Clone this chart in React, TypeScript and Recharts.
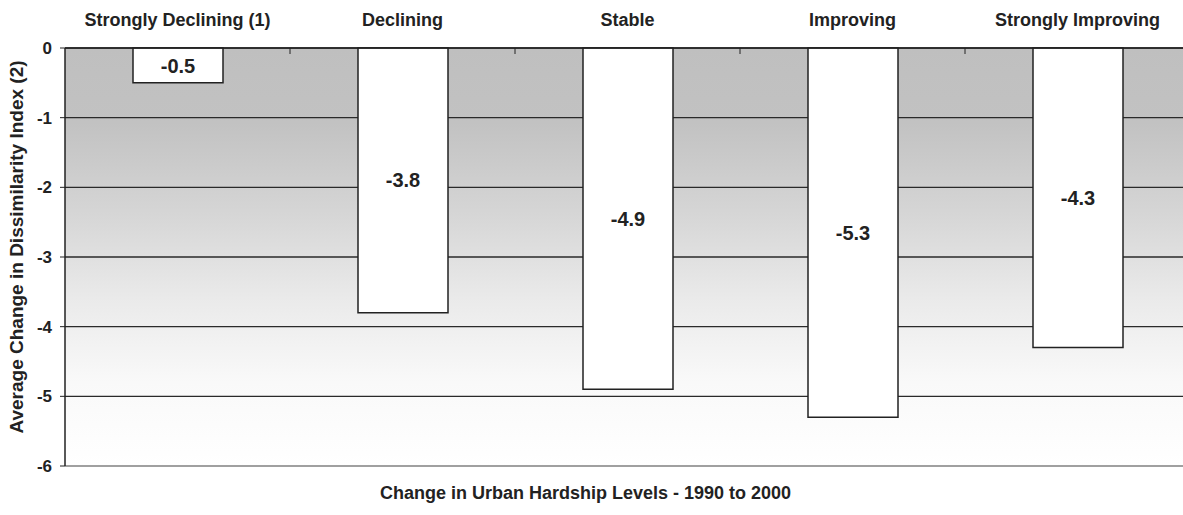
import { BarChart, Bar, XAxis, YAxis, CartesianGrid, LabelList } from 'recharts';

// Hardship level categories along the top
const categories = ['Strongly Declining (1)', 'Declining', 'Stable', 'Improving', 'Strongly Improving'];
// Average change in dissimilarity index
const changes = [-0.5, -3.8, -4.9, -5.3, -4.3];
const yTicks = [0, -1, -2, -3, -4, -5, -6];
const boundaryTicks = [1, 2, 3, 4];

const data = categories.map((category, i) => ({
  category,
  value: changes[i],
  idx: i + 0.5,
}));

const font = '"Liberation Sans", Arial, sans-serif';
const yTitle = 'Average Change in Dissimilarity Index (2)';

const NoTick = () => <g />;

const YTitle = (props: any) => {
  const vb = props.viewBox || { x: 0, y: 0, width: 65, height: 417 };
  const cx = vb.x + 16;
  const cy = vb.y + vb.height / 2 - 10;
  return (
    <text
      x={cx}
      y={cy}
      transform={`rotate(-90, ${cx}, ${cy})`}
      textAnchor="middle"
      dominantBaseline="central"
      fill="#222"
      fontSize={19}
      fontWeight={700}
      fontFamily={font}
    >
      {yTitle}
    </text>
  );
};

export default function App() {
  return (
    <div style={{ position: 'absolute', left: 0, top: 0, width: 1183, height: 515, overflow: 'hidden', background: '#fff' }}>
      <BarChart
        width={1190}
        height={515}
        data={data}
        margin={{ top: 0, right: 0, bottom: 0, left: 0 }}
        barCategoryGap={0}
      >
        <defs>
          <linearGradient id="bgGrad" x1="0" y1="0" x2="0" y2="1">
            <stop offset="0%" stopColor="#bfbfbf" />
            <stop offset="18%" stopColor="#c2c2c2" />
            <stop offset="40%" stopColor="#d6d6d6" />
            <stop offset="60%" stopColor="#eaeaea" />
            <stop offset="80%" stopColor="#f9f9f9" />
            <stop offset="100%" stopColor="#ffffff" />
          </linearGradient>
        </defs>
        <CartesianGrid
          vertical={false}
          stroke="#2a2a2a"
          strokeWidth={1.4}
          fill="url(#bgGrad)"
          fillOpacity={1}
          xAxisId="cat"
        />
        <XAxis
          xAxisId="bounds"
          orientation="top"
          type="number"
          dataKey="idx"
          domain={[0, 5]}
          ticks={boundaryTicks}
          height={1}
          mirror
          tick={NoTick}
          tickSize={6}
          tickLine={{ stroke: '#222' }}
          axisLine={{ stroke: '#222', strokeWidth: 1.5 }}
        />
        <XAxis
          xAxisId="cat"
          orientation="top"
          dataKey="category"
          height={48}
          tickLine={false}
          axisLine={false}
          tickSize={0}
          tickMargin={22}
          interval={0}
          tick={{ fill: '#222', fontSize: 18, fontWeight: 700, fontFamily: font }}
        />
        <XAxis
          xAxisId="bottom"
          orientation="bottom"
          type="number"
          dataKey="idx"
          domain={[0, 5]}
          height={49}
          tick={false}
          tickLine={false}
          axisLine={{ stroke: '#a0a0a0', strokeWidth: 2 }}
          label={{
            value: 'Change in Urban Hardship Levels - 1990 to 2000',
            position: 'insideBottom',
            offset: 16,
            dx: -42,
            fill: '#222',
            fontSize: 18,
            fontWeight: 700,
            fontFamily: font,
          }}
        />
        <YAxis
          domain={[-6, 0]}
          ticks={yTicks}
          width={65}
          interval={0}
          tickSize={5}
          tickMargin={8}
          tickLine={{ stroke: '#222' }}
          axisLine={{ stroke: '#222', strokeWidth: 1.5 }}
          tick={{ fill: '#222', fontSize: 17, fontWeight: 700, fontFamily: font }}
          label={{ content: YTitle }}
        />
        <Bar
          xAxisId="cat"
          dataKey="value"
          barSize={90}
          fill="#ffffff"
          stroke="#222"
          strokeWidth={1.5}
          isAnimationActive={false}
        >
          <LabelList
            dataKey="value"
            position="center"
            fill="#222"
            fontSize={20}
            fontWeight={700}
            fontFamily={font}
          />
        </Bar>
      </BarChart>
    </div>
  );
}
